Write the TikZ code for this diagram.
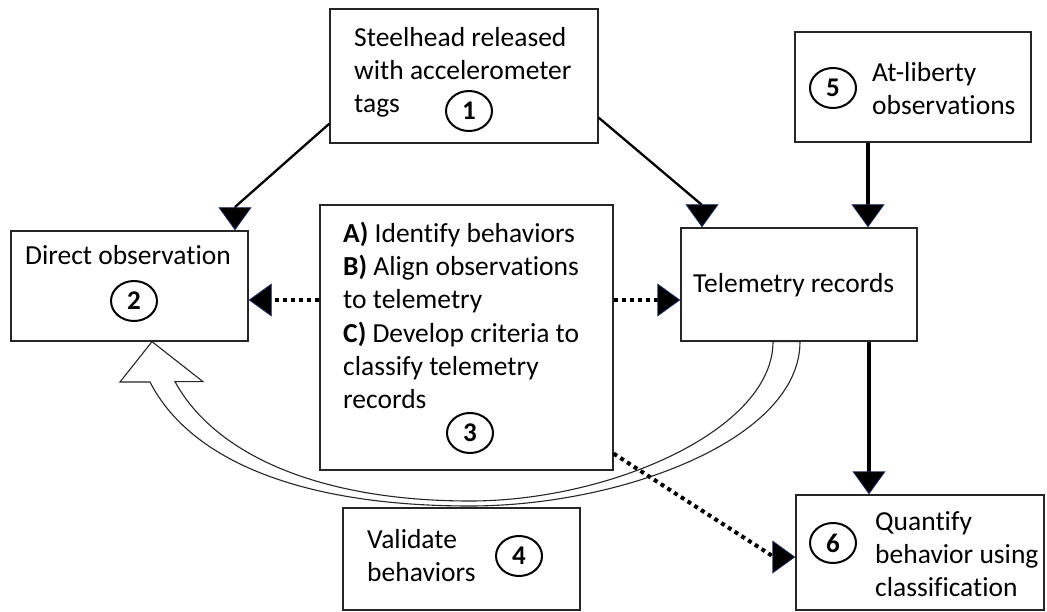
\documentclass[tikz,border=0pt]{standalone}
\usepackage{fontspec}
\setmainfont{Carlito}[RawFeature={-liga;-clig;-dlig}]
\usetikzlibrary{arrows.meta,shapes.geometric}
\definecolor{tipnavy}{HTML}{1F3060}
\tikzset{
  box/.style={draw=black!85, line width=1.3pt, fill=white, inner sep=0pt},
  txt/.style={anchor=base west, inner sep=0pt, font=\fontsize{27.5}{33}\selectfont},
  num/.style={ellipse, draw=black, line width=2pt, minimum width=46pt, minimum height=40pt,
              inner sep=0pt, font=\fontsize{27}{30}\selectfont\bfseries},
  headtip/.tip={Triangle[width=33pt, length=23pt, fill=black, color=tipnavy, line width=0.8pt]},
  thinlink/.style={line width=2.3pt, black},
  thicklink/.style={line width=4pt, black},
  dotlink/.style={line width=4pt, black, dash pattern=on 4pt off 4pt},
  blockarrow/.style={draw=black!85, line width=1.1pt, fill=white, line join=miter},
}
\begin{document}
\begin{tikzpicture}[x=1pt, y=-1pt]
\useasboundingbox (0,0) rectangle (1047,612);

% boxes
\node[box, minimum width=268pt, minimum height=134pt] (b1) at (464,76) {};
\node[box, minimum width=237pt, minimum height=110pt] (b2) at (129.5,286) {};
\node[box, minimum width=293pt, minimum height=265pt] (b3) at (466.5,337.5) {};
\node[box, minimum width=236pt, minimum height=113pt] (tel) at (799,284.5) {};
\node[box, minimum width=236pt, minimum height=110pt] (b5) at (913,87) {};
\node[box, minimum width=237pt, minimum height=102pt] (b4) at (461.5,559) {};
\node[box, minimum width=248pt, minimum height=115pt] (b6) at (920,552.5) {};

% hollow curved arrow: telemetry records back to direct observation
\coordinate (vtip) at ([xshift=22.5pt]b2.south);
\coordinate (vin) at ([xshift=-26pt]tel.south);
\coordinate (vout) at ([xshift=1pt]tel.south);
\draw[blockarrow] (vtip) -- ++(51,40) -- ++(-28,0)
  .. controls (215,455) and (320,501) .. (470,501)
  .. controls (610,501) and (vin |- 0,430) .. (vin)
  -- (vout)
  .. controls (vout |- 0,440) and (620,506) .. (470,506)
  .. controls (300,506) and (190,460) .. (150,382)
  -- (120,382) -- cycle;

% box texts
\node[txt] (t1a) at (354,47) {Steelhead released};
\node[txt] (t1b) at (354,80) {with accelerometer};
\node[txt] (t1c) at (354,113) {tags};
\node[num] (n1) at (469,111) {1};

\node[txt, anchor=base] (t2) at (128,265) {Direct observation};
\node[num] (n2) at (134,301) {2};

\node[txt] (t3a) at (343,243) {\textbf{A)} Identify behaviors};
\node[txt] (t3b) at (343,276) {\textbf{B)} Align observations};
\node[txt] (t3c) at (343,309) {to telemetry};
\node[txt] (t3d) at (343,342) {\textbf{C)} Develop criteria to};
\node[txt] (t3e) at (343,375) {classify telemetry};
\node[txt] (t3f) at (343,408) {records};
\node[num] (n3) at (470,433) {3};

\node[txt] (ttel) at (693,293) {Telemetry records};

\node[num] (n5) at (833,88) {5};
\node[txt] (t5a) at (872,82) {At-liberty};
\node[txt] (t5b) at (872,115) {observations};

\node[txt] (t4a) at (367,548) {Validate};
\node[txt] (t4b) at (367,581) {behaviors};
\node[num] (n4) at (519,556) {4};

\node[num] (n6) at (833,543) {6};
\node[txt] (t6a) at (875,530) {Quantify};
\node[txt] (t6b) at (875,563) {behavior using};
\node[txt] (t6c) at (875,596) {classification};

% solid connectors from the release box
\coordinate (k1) at (235,207);
\draw[thinlink] ([yshift=20pt]b1.south west) -- (k1);
\draw[thinlink, -headtip] (k1) -- (k1 |- b2.north);
\coordinate (k2) at (702,205);
\draw[thinlink] ([yshift=26pt]b1.south east) -- (k2);
\draw[thinlink, -headtip] (k2) -- (k2 |- tel.north);

% thick vertical connectors
\draw[thicklink, -headtip] ([xshift=-45pt]b5.south) -- ([xshift=-45pt]b5.south |- tel.north);
\draw[thicklink, -headtip] ([xshift=70pt]tel.south) -- ([xshift=70pt]tel.south |- b6.north);

% dotted connectors from the analysis box
\draw[dotlink, -headtip] (b3.west |- 0,300) -- (b2.east |- 0,300);
\draw[dotlink, -headtip] (b3.east |- 0,300) -- (tel.west |- 0,300);
\coordinate (k3) at (774,557);
\draw[dotlink] ([yshift=17pt]b3.south east) -- (k3);
\draw[dotlink, -headtip] (k3) -- (b6.west |- k3);
\end{tikzpicture}
\end{document}
